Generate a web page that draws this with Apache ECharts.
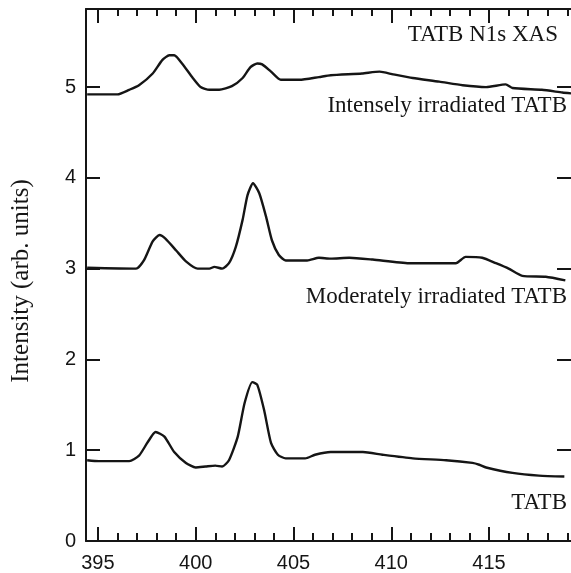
<!DOCTYPE html>
<html>
<head>
<meta charset="utf-8">
<script src="https://cdn.jsdelivr.net/npm/echarts@6/dist/echarts.min.js"></script>
<style>html,body{margin:0;padding:0;background:#fff;overflow:hidden;}#chart{width:571px;height:573px;}</style>
</head>
<body>
<div id="chart"></div>
<script>
// Photon energy (eV) and intensity for each spectrum
var energyIntense = [394.45, 396.0, 396.6, 397.1, 397.8, 398.3, 398.65, 398.9, 399.3, 399.85, 400.25, 400.7, 401.2, 401.85, 402.4, 402.8, 403.15, 403.4, 403.85, 404.35, 405.3, 406.3, 406.9, 408.5, 409.4, 410.1, 411.1, 412.45, 413.65, 414.85, 415.85, 416.2, 417.7, 418.75, 419.19];
var intensityIntense = [4.92, 4.92, 4.97, 5.02, 5.15, 5.30, 5.35, 5.35, 5.26, 5.10, 5.00, 4.97, 4.97, 5.01, 5.10, 5.22, 5.26, 5.25, 5.17, 5.08, 5.08, 5.11, 5.13, 5.15, 5.17, 5.14, 5.10, 5.06, 5.02, 5.00, 5.03, 4.99, 4.97, 4.94, 4.93];

var energyModerate = [394.45, 396.95, 397.35, 397.8, 398.15, 398.45, 399.0, 399.5, 400.1, 400.7, 400.95, 401.35, 401.7, 402.05, 402.4, 402.65, 402.93, 403.25, 403.6, 403.9, 404.25, 404.6, 405.7, 406.3, 406.9, 407.85, 409.05, 410.9, 413.3, 413.8, 414.65, 415.35, 416.0, 416.7, 417.9, 418.9];
var intensityModerate = [3.01, 3.00, 3.09, 3.30, 3.37, 3.33, 3.20, 3.08, 3.00, 3.00, 3.02, 3.00, 3.06, 3.24, 3.54, 3.81, 3.94, 3.83, 3.57, 3.31, 3.15, 3.09, 3.09, 3.12, 3.11, 3.12, 3.10, 3.06, 3.06, 3.13, 3.12, 3.06, 3.00, 2.92, 2.91, 2.87];

var energyTATB = [394.45, 395.05, 396.6, 397.1, 397.55, 397.95, 398.4, 398.9, 399.5, 400.0, 400.5, 401.0, 401.35, 401.7, 402.15, 402.5, 402.9, 403.15, 403.5, 403.85, 404.2, 404.6, 405.6, 406.1, 406.9, 407.85, 408.55, 409.55, 411.1, 412.8, 414.15, 414.5, 414.85, 416.2, 417.55, 418.85];
var intensityTATB = [0.89, 0.88, 0.88, 0.94, 1.09, 1.20, 1.15, 0.98, 0.86, 0.81, 0.82, 0.83, 0.82, 0.89, 1.15, 1.52, 1.75, 1.72, 1.44, 1.08, 0.95, 0.91, 0.91, 0.95, 0.98, 0.98, 0.98, 0.95, 0.91, 0.89, 0.86, 0.84, 0.81, 0.75, 0.72, 0.71];

var xMajorTicks = [395, 400, 405, 410, 415];
var xMinorTicks = [396, 397, 398, 399, 401, 402, 403, 404, 406, 407, 408, 409, 411, 412, 413, 414, 416, 417, 418, 419];
var yTicks = [0, 1, 2, 3, 4, 5];

var seriesLabels = ['Intensely irradiated TATB', 'Moderately irradiated TATB', 'TATB'];
var chartTitle = 'TATB N1s XAS';
var yTitle = 'Intensity (arb. units)';

function zip(xs, ys) { return xs.map(function (x, i) { return [x, ys[i]]; }); }

var ink = '#151515';
var xMin = 394.39, xMax = 419.19;
function xAxisDef(pos, ticks, len, showLine, showLabel) {
  return {
    type: 'value', position: pos, min: xMin, max: xMax,
    axisLine: { show: showLine, onZero: false, lineStyle: { color: ink, width: 2 } },
    axisTick: { show: true, inside: true, length: len, customValues: ticks, lineStyle: { color: ink, width: 2 } },
    axisLabel: { show: showLabel, customValues: ticks, color: ink, fontFamily: 'Liberation Sans, Arial, sans-serif', fontSize: 20, margin: 12 },
    splitLine: { show: false }
  };
}
function yAxisDef(pos, showLabel, showLine) {
  return {
    type: 'value', position: pos, min: 0, max: 5.86,
    axisLine: { show: showLine, onZero: false, lineStyle: { color: ink, width: 2 } },
    axisTick: { show: true, inside: true, length: 14, customValues: yTicks, lineStyle: { color: ink, width: 2 } },
    axisLabel: { show: showLabel, customValues: yTicks, color: ink, fontFamily: 'Liberation Sans, Arial, sans-serif', fontSize: 20, margin: 10 },
    splitLine: { show: false }
  };
}
function lineSeries(name, data) {
  return {
    name: name, type: 'line', data: data, xAxisIndex: 0, yAxisIndex: 0,
    showSymbol: false, smooth: 0.2, silent: true,
    lineStyle: { color: ink, width: 2.4 }
  };
}

var chart = echarts.init(document.getElementById('chart'), null, { renderer: 'canvas' });
var serif = 'Liberation Serif, Times New Roman, serif';
chart.setOption({
  animation: false,
  backgroundColor: '#fff',
  grid: { left: 86, top: 9, right: -1, bottom: 32 },
  xAxis: [
    xAxisDef('bottom', xMajorTicks, 14, true, true),
    xAxisDef('bottom', xMinorTicks, 8, false, false),
    xAxisDef('top', xMajorTicks, 14, true, false),
    xAxisDef('top', xMinorTicks, 7, false, false)
  ],
  yAxis: [yAxisDef('left', true, true), yAxisDef('right', false, false)],
  series: [
    lineSeries(seriesLabels[0], zip(energyIntense, intensityIntense)),
    lineSeries(seriesLabels[1], zip(energyModerate, intensityModerate)),
    lineSeries(seriesLabels[2], zip(energyTATB, intensityTATB))
  ],
  graphic: [
    { type: 'text', x: 558, y: 35, style: { text: chartTitle, font: '23px ' + serif, fill: ink, textAlign: 'right', textVerticalAlign: 'middle' } },
    { type: 'text', x: 567, y: 106, style: { text: seriesLabels[0], font: '23px ' + serif, fill: ink, textAlign: 'right', textVerticalAlign: 'middle' } },
    { type: 'text', x: 567, y: 297, style: { text: seriesLabels[1], font: '23px ' + serif, fill: ink, textAlign: 'right', textVerticalAlign: 'middle' } },
    { type: 'text', x: 567, y: 503, style: { text: seriesLabels[2], font: '23px ' + serif, fill: ink, textAlign: 'right', textVerticalAlign: 'middle' } },
    { type: 'text', x: 21, y: 281, rotation: Math.PI / 2, style: { text: yTitle, font: '25px ' + serif, fill: ink, textAlign: 'center', textVerticalAlign: 'middle' } }
  ]
});
</script>
</body>
</html>
